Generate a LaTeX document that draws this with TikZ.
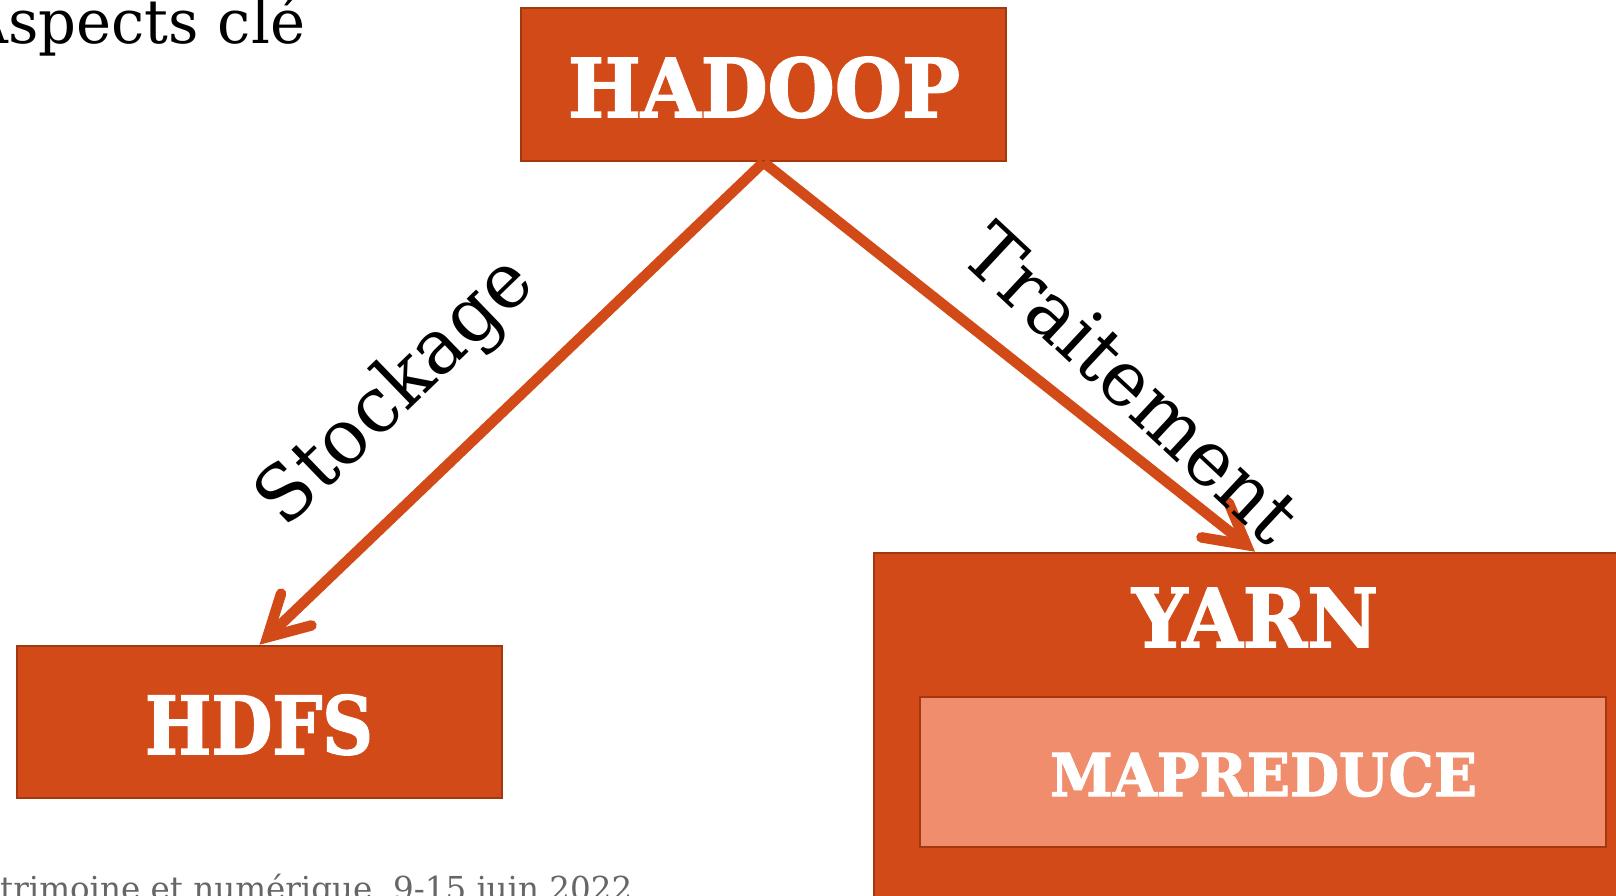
\documentclass[tikz,border=0pt]{standalone}
\usepackage{fontspec}
\setmainfont{DejaVu Serif}
\newfontfamily\heavyfont{DejaVu Serif}[BoldFeatures={FakeBold=2}]
\usepackage{graphicx}
\usetikzlibrary{arrows.meta}
\definecolor{rust}{HTML}{D24A18}
\definecolor{rustedge}{HTML}{A3370F}
\definecolor{salmon}{HTML}{EF8D6C}
\definecolor{footgray}{HTML}{666666}

\begin{document}
\begin{tikzpicture}[x=1pt,y=-1pt,
  box/.style={draw=rustedge, line width=2.5pt, fill=rust, rectangle, inner sep=0pt},
  innerbox/.style={draw=rustedge, line width=2.5pt, fill=salmon, rectangle, inner sep=0pt},
  boxlabel/.style={text=white, font=\heavyfont\bfseries, inner sep=0pt, anchor=base},
  linklabel/.style={text=black, inner sep=0pt},
  link/.style={draw=rust, line width=10.5pt,
    -{Straight Barb[length=40pt,width=44pt,line cap=round]}}
]
\useasboundingbox (0,0) rectangle (1616,896);
\clip (0,0) rectangle (1616,896);
\fill[white] (0,0) rectangle (1616,896);

% title and footer, partly cut by the page edge
\node[anchor=base west, inner sep=0pt, font=\fontsize{61}{61}\selectfont] (title) at (8,44) {\resizebox{297pt}{\height}{\llap{A}spects clé}};
\node[anchor=base west, inner sep=0pt, text=footgray, font=\fontsize{33}{33}\selectfont] (footer) at (0,900) {\resizebox{632pt}{\height}{\llap{Pa}trimoine et numérique, 9-15 juin 2022}};

% boxes
\node[box, minimum width=485pt, minimum height=153pt] (hadoop) at (763.5,84.5) {};
\node[box, minimum width=485pt, minimum height=152pt] (hdfs) at (259.5,722) {};
\node[box, minimum width=762pt, minimum height=387pt] (yarn) at (1255,746.5) {};
\node[innerbox, minimum width=686pt, minimum height=150pt] (mapreduce) at (1263,772) {};

% box labels
\node[boxlabel] (hadoopText) at (764,117) {\fontsize{81}{81}\selectfont\resizebox{392pt}{\height}{HADOOP}};
\node[boxlabel] (hdfsText) at (259,754) {\fontsize{80}{80}\selectfont\resizebox{228pt}{\height}{HDFS}};
\node[boxlabel] (yarnText) at (1255,647) {\fontsize{81}{81}\selectfont\resizebox{246pt}{\height}{YARN}};
\node[boxlabel] (mapreduceText) at (1263.5,796) {\fontsize{59}{59}\selectfont\resizebox{427pt}{\height}{MAPREDUCE}};

% connectors
\draw[link] (hadoop.south) -- (hdfs.north);
\draw[link] (hadoop.south) -- (yarn.north);

% connector labels
\node[linklabel, rotate=44] (stockage) at (397,393) {\fontsize{77}{77}\selectfont\resizebox{350pt}{\height}{Stockage}};
\node[linklabel, rotate=-43] (traitement) at (1132,383) {\fontsize{77}{77}\selectfont\resizebox{426pt}{\height}{Traitement}};
\end{tikzpicture}
\end{document}
